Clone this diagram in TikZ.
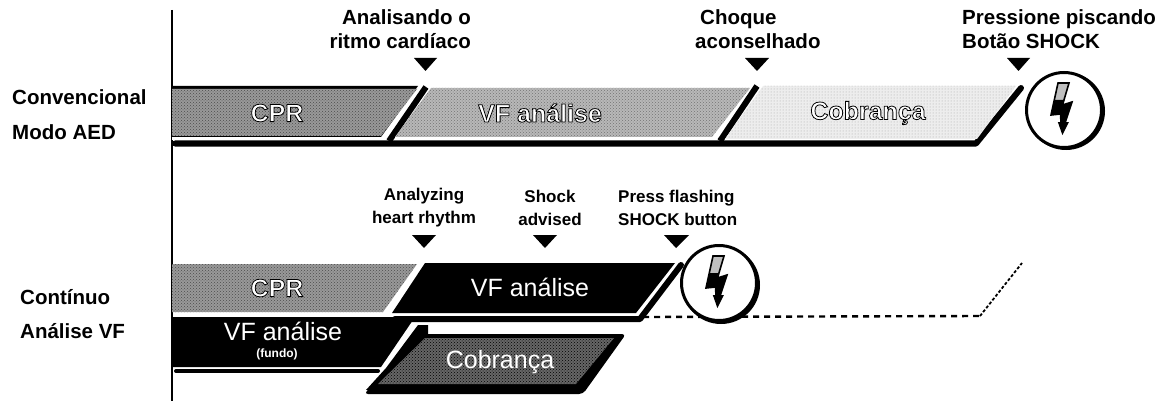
\documentclass[tikz,border=0pt]{standalone}
\usepackage{fontspec}
\usetikzlibrary{patterns}
\setmainfont{Liberation Sans}
\newfontfamily\outlfont[BoldFeatures={FakeBold=3.2}]{Liberation Sans}
\newcommand{\outlined}[1]{\special{pdf:bcolor [1] [0]}#1\special{pdf:ecolor}}
\newcommand{\boltshape}[1]{
  \begin{scope}[shift={(#1)}]
    \fill[black!25,draw=black,line width=1.6pt,line join=miter] (-6,-27) -- (5,-27) -- (-1.5,-5) -- (8,-8) -- (1,13) -- (3.5,13) -- (-1.5,23) -- (-5,13) -- (-3,13) -- (-3.5,4) -- (-13,5) -- cycle;
    \fill[black] (-9.5,-10) -- (-1,-10) -- (-1.5,-5) -- (8,-8) -- (1,13) -- (3.5,13) -- (-1.5,23) -- (-5,13) -- (-3,13) -- (-3.5,4) -- (-13,5) -- cycle;
  \end{scope}
}
\tikzset{
  x=1pt,y=-1pt,
  lab/.style={font=\bfseries\fontsize{20.5}{24}\selectfont,inner sep=0pt,text=black},
  sublab/.style={font=\bfseries\fontsize{17}{23}\selectfont,inner sep=0pt,text=black},
  halo/.style={font=\outlfont\bfseries\fontsize{25}{28}\selectfont,inner sep=0pt},
  plainw/.style={font=\fontsize{25}{28}\selectfont,inner sep=0pt,text=white},
  tri/.style={fill=black},
  dense/.style={fill=black!40,postaction={pattern=crosshatch dots,pattern color=black!70}},
  mid/.style={fill=black!28,postaction={pattern=crosshatch dots,pattern color=black!55}},
  light/.style={fill=black!7,postaction={pattern=dots,pattern color=black!35}},
  darkband/.style={fill=black!60,postaction={pattern=crosshatch dots,pattern color=black}},
  heavy/.style={draw=black,line width=6pt,line cap=round,line join=round},
  shockc/.style={circle,draw=black,line width=3pt,fill=white,minimum size=75pt,inner sep=0pt},
  shockb/.style={circle,fill=black,minimum size=78pt,inner sep=0pt},
}
\begin{document}
\begin{tikzpicture}
\useasboundingbox (0,0) rectangle (1164,401);
\fill[white] (0,0) rectangle (1164,401);
% axis
\coordinate (axT) at (172,10);
\coordinate (axB) at (172,401);
\draw[line width=1.2pt] (axT) -- (axB);
% row labels
\node[lab,anchor=west] (conv) at (12,97) {Convencional};
\node[lab,anchor=west] (aed) at (12,132) {Modo AED};
\node[lab,anchor=west] (cont) at (20,297) {Contínuo};
\node[lab,anchor=west] (anvf) at (20,331) {Análise VF};
% top row
\draw[heavy] (175,143.5) -- (976,143.5) -- (1021,88);
\fill[black] (172,86) -- (418,86) -- (381,137) -- (172,137) -- cycle;
\fill[dense] (172,89) -- (417,89) -- (381,136) -- (172,136) -- cycle;
\fill[white] (172,137) rectangle (386,140);
\draw[black,line width=6pt] (426,87) -- (389,141);
\fill[mid] (431,88) -- (750,88) -- (712,137) -- (395,137) -- cycle;
\fill[white] (395,137.5) rectangle (714,140);
\draw[black,line width=6pt] (757,86) -- (720,141);
\fill[light] (763,86) -- (1016,86) -- (977,139) -- (725,139) -- cycle;
\node[shockb] (s1b) at (1066,111) {};
\node[shockc] (s1) at (1064,110) {};
\boltshape{1064,110}
\fill[tri] (414,58) -- (437,58) -- (425.5,71) -- cycle;
\fill[tri] (745,58) -- (769,58) -- (757,71) -- cycle;
\fill[tri] (1007,58) -- (1030,58) -- (1018.5,71) -- cycle;
\node[lab,align=right,anchor=north east] (t1) at (471,9) {Analisando o\\ritmo cardíaco};
\node[lab,align=left,anchor=north west] (t2) at (695,9) {\hspace*{5pt}Choque\\aconselhado};
\node[lab,align=left,anchor=north west] (t3) at (962,9) {Pressione piscando\\Botão SHOCK};
\node[halo] (cpr1) at (277,113) {\outlined{CPR}};
\node[halo] (vf1) at (540,113) {\outlined{VF análise}};
\node[halo] (cob1) at (868,113) {\outlined{Cobrança}};
% bottom row
\draw[black,line width=4pt,line cap=round] (176,371) -- (378,371);
\fill[black] (172,317) -- (415,317) -- (381,367) -- (172,367) -- cycle;
\fill[black] (418,325) -- (428,325) -- (428,335) -- (390,388) -- (366,390) -- (386,368) -- cycle;
\fill[black,rounded corners=4pt] (421,334) -- (626,334) -- (583,394) -- (364,394) -- cycle;
\fill[darkband] (425,338) -- (614,338) -- (576,384) -- (378,384) -- cycle;
\fill[dense] (172,264) -- (417,264) -- (383,312) -- (172,312) -- cycle;
\draw[heavy] (395,319) -- (640,319) -- (681,265);
\fill[black] (425,263) -- (675,263) -- (636,313) -- (392,313) -- cycle;
\coordinate (d1) at (643,317);
\coordinate (d2) at (980,316);
\coordinate (d3) at (1022,263);
\draw[black,line width=2.4pt,dash pattern=on 6pt off 5pt] (d1) -- (d2);
\draw[black,line width=1.8pt,dash pattern=on 3pt off 2pt] (d2) -- (d3);
\node[shockb] (s2b) at (721,285) {};
\node[shockc] (s2) at (719,283) {};
\boltshape{719,283}
\fill[tri] (412,235) -- (436,235) -- (424,248) -- cycle;
\fill[tri] (533,235) -- (557,235) -- (545,248) -- cycle;
\fill[tri] (664,235) -- (689,235) -- (676,248) -- cycle;
\node[sublab,align=center] (b1) at (424,208) {Analyzing\\heart rhythm};
\node[sublab,align=center] (b2) at (550,208) {Shock\\advised};
\node[sublab,align=left,anchor=west] (b3) at (618,208) {Press flashing\\SHOCK button};
\node[halo] (cpr2) at (277,288) {\outlined{CPR}};
\node[plainw] (vf2) at (530,287) {VF análise};
\node[plainw] (vf3) at (283,331) {VF análise};
\node[font=\bfseries\fontsize{12}{13}\selectfont,inner sep=0pt,text=white] (fund) at (277,354) {(fundo)};
\node[plainw] (cob2) at (500,362) {Cobrança};
\end{tikzpicture}
\end{document}
